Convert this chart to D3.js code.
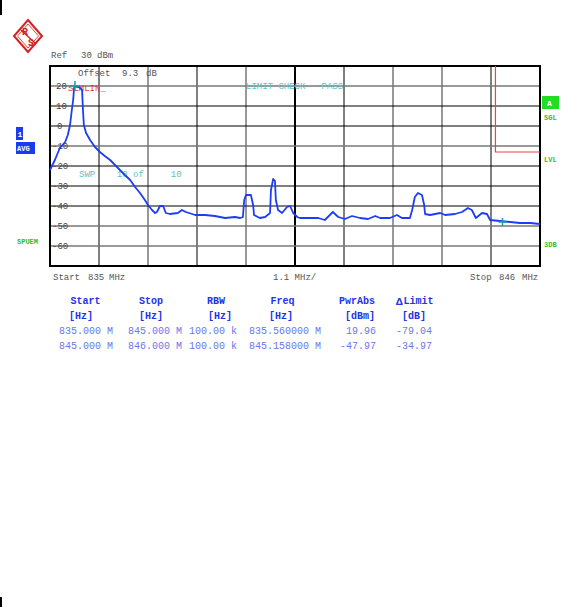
<!DOCTYPE html>
<html><head><meta charset="utf-8">
<script src="https://cdn.jsdelivr.net/npm/d3@7"></script>
<style>
body{margin:0;background:#fff;}
svg text{font-family:"Liberation Mono","DejaVu Sans Mono",monospace;white-space:pre;}
</style></head>
<body><svg id="c" width="562" height="607"></svg>
<script>
// ---- data ----
const freqMHz = [835.00,835.11,835.22,835.34,835.40,835.45,835.49,835.52,835.54,835.56,835.65,835.72,835.74,835.76,835.81,835.90,836.01,836.12,836.23,836.35,836.46,836.57,836.68,836.80,836.91,837.02,837.13,837.20,837.29,837.36,837.40,837.47,837.54,837.60,837.69,837.87,837.96,838.05,838.26,838.48,838.70,838.93,839.15,839.27,839.33,839.36,839.40,839.51,839.56,839.58,839.71,839.83,839.94,839.96,840.01,840.05,840.07,840.12,840.21,840.32,840.39,840.46,840.55,840.61,840.84,841.02,841.17,841.35,841.47,841.62,841.78,841.96,842.14,842.30,842.41,842.63,842.79,842.90,843.08,843.13,843.19,843.26,843.35,843.40,843.42,843.53,843.76,843.87,844.09,844.25,844.38,844.47,844.56,844.70,844.81,844.88,845.10,845.33,845.55,845.78,846.00];
const levelDBm = [-22,-17,-11,-8,-4.5,0.5,8,13,19,19.96,19.5,18,8,0.5,-3.5,-7,-10.5,-13,-15,-17,-19.5,-22,-24.5,-27,-30.5,-33.5,-37,-39.5,-42,-43.5,-43,-40,-40,-43.5,-44,-43.5,-42,-43,-44.5,-44.5,-45,-46,-45.5,-46,-45.5,-37,-34.5,-34.5,-39.5,-44.5,-46,-45.5,-43.5,-32,-26.5,-27.5,-37,-42,-43.5,-40.5,-40,-43.5,-45.5,-46,-46,-46,-47,-43,-45.5,-46.5,-45,-46,-46.5,-45,-46,-46,-44.5,-46,-46,-42,-35.5,-33.5,-34.5,-39.5,-44,-44.5,-43.5,-44.5,-44,-43,-41,-42,-46,-43.5,-44,-47,-47.5,-48,-48.5,-48.5,-49];
const yTickLabels = [20,10,0,-10,-20,-30,-40,-50,-60];
const limitFreq = [845,845,846];
const limitLevel = [30,-13,-13];
const markerFreq = [835.56,845.158];
const markerLevel = [19.96,-47.97];
const tableHeaders = ["Start","Stop","RBW","Freq","PwrAbs","Limit"];
const tableUnits = ["[Hz]","[Hz]","[Hz]","[Hz]","[dBm]","[dB]"];
const tableRows = [
  ["835.000 M","845.000 M","100.00 k","835.560000 M","19.96","-79.04"],
  ["845.000 M","846.000 M","100.00 k","845.158000 M","-47.97","-34.97"]
];

// ---- layout ----
const svg = d3.select("#c");
const L=50,R=540,T=66,B=266;
const x = d3.scaleLinear().domain([835,846]).range([L,R]);
const y = d3.scaleLinear().domain([-70,30]).range([B,T]);

// crop marks
svg.append("rect").attr("x",0).attr("y",0).attr("width",2).attr("height",15).attr("fill","#000");
svg.append("rect").attr("x",0).attr("y",597).attr("width",2).attr("height",10).attr("fill","#000");

// R&S logo
const red="#d42020";
const lg = svg.append("g").attr("transform","translate(28,36)");
lg.append("path").attr("d","M0,-16 L14,0 L0,16 L-14,0 Z").attr("fill","none").attr("stroke",red).attr("stroke-width",2);
lg.append("path").attr("d","M0,-12 L10.5,0 L0,12 L-10.5,0 Z").attr("fill","none").attr("stroke",red).attr("stroke-width",0.8);
lg.append("path").attr("d","M-7,-6 L7,7").attr("stroke",red).attr("stroke-width",1.4);
lg.append("text").attr("x",-3).attr("y",-1).attr("font-size",10).attr("font-weight","bold").attr("fill",red).attr("text-anchor","middle").text("R");
lg.append("text").attr("x",3).attr("y",10).attr("font-size",10).attr("font-weight","bold").attr("fill",red).attr("text-anchor","middle").text("S");

const gray="#555";
function t(xp,yp,s,opt={}){
  const e=svg.append("text").attr("x",xp).attr("y",yp).attr("font-size",opt.size||9).attr("fill",opt.fill||gray).text(s);
  if(opt.anchor) e.attr("text-anchor",opt.anchor);
  if(opt.bold) e.attr("font-weight","bold");
  return e;
}
t(51,58,"Ref");
t(81,58,"30");
t(97,58,"dBm");

// grid
const xTicks = d3.range(0,11).map(i=>835+i*1.1);
const grayX = [2,4,7,8];
xTicks.forEach((f,i)=>{
  if(i===0||i===10) return;
  svg.append("line").attr("x1",Math.round(x(f))).attr("x2",Math.round(x(f))).attr("y1",T).attr("y2",B)
    .attr("stroke",grayX.includes(i)?"#777":"#000").attr("stroke-width",i===5?2:(grayX.includes(i)?1.5:1));
});
const yTicks = d3.range(-60,30,10);
yTicks.forEach(v=>{
  const g = (v===-10||v===-50||v===-60||v===20);
  svg.append("line").attr("x1",L).attr("x2",R).attr("y1",y(v)).attr("y2",y(v))
    .attr("stroke",g?"#777":"#000").attr("stroke-width",g?1.5:1);
});
svg.append("rect").attr("x",L).attr("y",T).attr("width",R-L).attr("height",B-T).attr("fill","none").attr("stroke","#000").attr("stroke-width",2);

// y labels inside
yTickLabels.forEach(v=>{
  t(v<0?52:(v===0?57:56), y(v)+3, v<0?"-"+Math.abs(v):String(v), {fill:"#444"});
});

// overlay texts
t(78,76,"Offset");
t(122,76,"9.3");
t(146,76,"dB");
t(246,89,"LIMIT CHECK   PASS",{fill:"#5cc4c4"});
t(79,177,"SWP    10 of     10",{fill:"#5cc4c4"});
t(68,91,"SEMLIN_",{fill:"#e04040"});

// limit line
svg.append("path").datum(limitFreq.map((f,i)=>[f,limitLevel[i]]))
  .attr("d",d3.line().x(d=>x(d[0])).y(d=>Math.max(T,y(d[1]))))
  .attr("fill","none").attr("stroke","#e04848").attr("stroke-width",1.2);

// trace
const pts = freqMHz.map((f,i)=>[f,levelDBm[i]]);
svg.append("path").datum(pts)
  .attr("d",d3.line().x(d=>x(d[0])).y(d=>y(d[1])))
  .attr("fill","none").attr("stroke","#1e3cf5").attr("stroke-width",1.8).attr("stroke-linejoin","round");

// markers
markerFreq.forEach((f,i)=>{
  const mx=x(f), my=y(markerLevel[i]);
  const s = i===0?5:4;
  svg.append("path").attr("d",`M${mx-s},${my}H${mx+s}M${mx},${my-s}V${my+s}`).attr("stroke","#1aa0a0").attr("stroke-width",1.5);
});

// side annotations
svg.append("rect").attr("x",16).attr("y",127).attr("width",7).attr("height",13).attr("fill","#1a3cf0");
t(17.5,137,"1",{fill:"#fff",size:8,bold:true});
svg.append("rect").attr("x",16).attr("y",142).attr("width",19).attr("height",12).attr("fill","#1a3cf0");
t(17,151,"AVG",{fill:"#fff",size:7,bold:true});
t(17,244,"SPUEM",{fill:"#2ec02e",size:7,bold:true});
svg.append("rect").attr("x",542).attr("y",96).attr("width",17).attr("height",13).attr("fill","#22dd22");
t(547,106,"A",{fill:"#fff",size:8,bold:true});
t(544,120,"SGL",{fill:"#2ec02e",size:7,bold:true});
t(544,162,"LVL",{fill:"#2ec02e",size:7,bold:true});
t(544,247,"3DB",{fill:"#2ec02e",size:7,bold:true});

// bottom axis text
t(53,280,"Start");
t(88,280,"835");
t(109,280,"MHz");
t(273,280,"1.1 MHz/");
t(470,280,"Stop");
t(499,280,"846");
t(522,280,"MHz");

// table
const hdrCx = [85.5,151,216,282.5,357,418.5];
const unitCx = [81,151,220,281,360,414];
const colRight = [113,182,237,321,376,432];
const hb="#2233e8", rb="#6a78ec";
tableHeaders.forEach((h,i)=>{
  t(hdrCx[i],304,h,{fill:hb,anchor:"middle",bold:true,size:10});
});
svg.append("text").attr("x",396).attr("y",304.5).attr("font-size",11).attr("font-weight","bold").attr("fill",hb).attr("font-family","DejaVu Sans").text("Δ");
tableUnits.forEach((u,i)=>t(unitCx[i],318.5,u,{fill:hb,anchor:"middle",bold:true,size:10}));
tableRows.forEach((row,r)=>{
  row.forEach((c,i)=>t(colRight[i],334+r*14.5,c,{fill:rb,anchor:"end",size:10}));
});
</script></body></html>
